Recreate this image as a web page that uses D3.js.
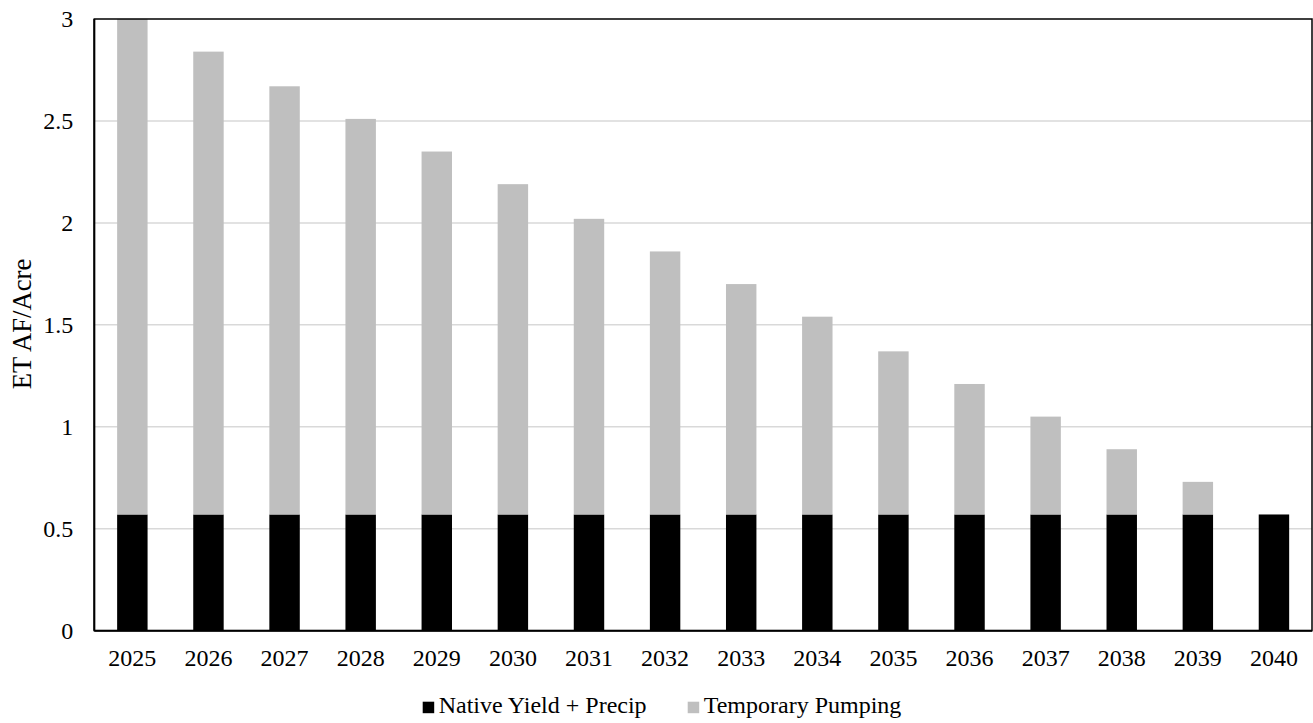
<!DOCTYPE html>
<html>
<head>
<meta charset="utf-8">
<script src="https://cdn.jsdelivr.net/npm/d3@7/dist/d3.min.js"></script>
<style>
  html, body { margin: 0; padding: 0; background: #fff; }
  svg { display: block; }
  svg text { font-family: "Liberation Serif", "Times New Roman", serif !important; fill: #000; }
</style>
</head>
<body>
<svg id="chart" width="1313" height="723"></svg>
<script>
const years = ["2025","2026","2027","2028","2029","2030","2031","2032","2033","2034","2035","2036","2037","2038","2039","2040"];
const nativeYield = [0.57,0.57,0.57,0.57,0.57,0.57,0.57,0.57,0.57,0.57,0.57,0.57,0.57,0.57,0.57,0.57];
const tempPumping = [2.43,2.27,2.10,1.94,1.78,1.62,1.45,1.29,1.13,0.97,0.80,0.64,0.48,0.32,0.16,0];
const yTicks = [0,0.5,1,1.5,2,2.5,3];
const seriesNames = ["Native Yield + Precip","Temporary Pumping"];
const seriesColors = ["#000000","#bfbfbf"];

(function () {
const FONT = "'Liberation Serif', 'Times New Roman', serif";
const svg = d3.select("#chart");
const pL = 94.3, pR = 1312, pT = 19, pB = 630.7;

const x = d3.scaleBand().domain(years).range([pL, pR]).paddingInner(0.6).paddingOuter(0.3);
const y = d3.scaleLinear().domain([0,3]).range([pB, pT]);

// gridlines
svg.append("g").selectAll("line").data(yTicks.filter(t => t > 0 && t < 3)).join("line")
  .attr("x1", pL).attr("x2", pR)
  .attr("y1", d => y(d)).attr("y2", d => y(d))
  .attr("stroke", "#d9d9d9").attr("stroke-width", 1.5);

// stacked data
const rows = years.map((yr, i) => ({year: yr, native: nativeYield[i], pump: tempPumping[i]}));
const stack = d3.stack().keys(["native","pump"])(rows);

svg.append("g").selectAll("g").data(stack).join("g")
  .attr("fill", (d, i) => seriesColors[i])
  .selectAll("rect").data(d => d).join("rect")
  .attr("x", d => x(d.data.year))
  .attr("width", x.bandwidth())
  .attr("y", d => y(d[1]))
  .attr("height", d => y(d[0]) - y(d[1]));

// plot border
svg.append("rect")
  .attr("x", pL).attr("y", pT)
  .attr("width", pR - pL).attr("height", pB - pT)
  .attr("fill", "none").attr("stroke", "#000").attr("stroke-width", 1.5);
svg.append("line").attr("x1", pL).attr("x2", pR).attr("y1", pB).attr("y2", pB)
  .attr("stroke", "#000").attr("stroke-width", 2);
svg.append("line").attr("x1", pL).attr("x2", pL).attr("y1", pT).attr("y2", pB)
  .attr("stroke", "#000").attr("stroke-width", 2);

// y axis labels
const yAxis = d3.axisLeft(y).tickValues(yTicks).tickSize(0).tickPadding(21).tickFormat(d3.format("~g"));
const gy = svg.append("g").attr("transform", `translate(${pL},0)`).call(yAxis);
gy.attr("font-family", null);
gy.select(".domain").remove();
gy.selectAll("text").style("font-size", "24px").style("font-family", FONT);

// x axis labels
const xAxis = d3.axisBottom(x).tickSize(0).tickPadding(18);
const gx = svg.append("g").attr("transform", `translate(0,${pB})`).call(xAxis);
gx.attr("font-family", null);
gx.select(".domain").remove();
gx.selectAll("text").style("font-size", "24px").style("font-family", FONT);

// y title
svg.append("text")
  .attr("transform", "translate(31,324) rotate(-90)")
  .attr("text-anchor", "middle")
  .style("font-size", "26.67px")
  .style("font-family", FONT)
  .text("ET AF/Acre");

// legend
const legendX = [422.7, 687.7];
const lg = svg.append("g");
seriesNames.forEach((name, i) => {
  lg.append("rect").attr("x", legendX[i]).attr("y", 701.7).attr("width", 11.5).attr("height", 11.5).attr("fill", seriesColors[i]);
  lg.append("text").attr("x", legendX[i] + 16).attr("y", 713.3)
    .style("font-size", "24px").style("font-family", FONT).text(name);
});
})();
</script>
</body>
</html>
